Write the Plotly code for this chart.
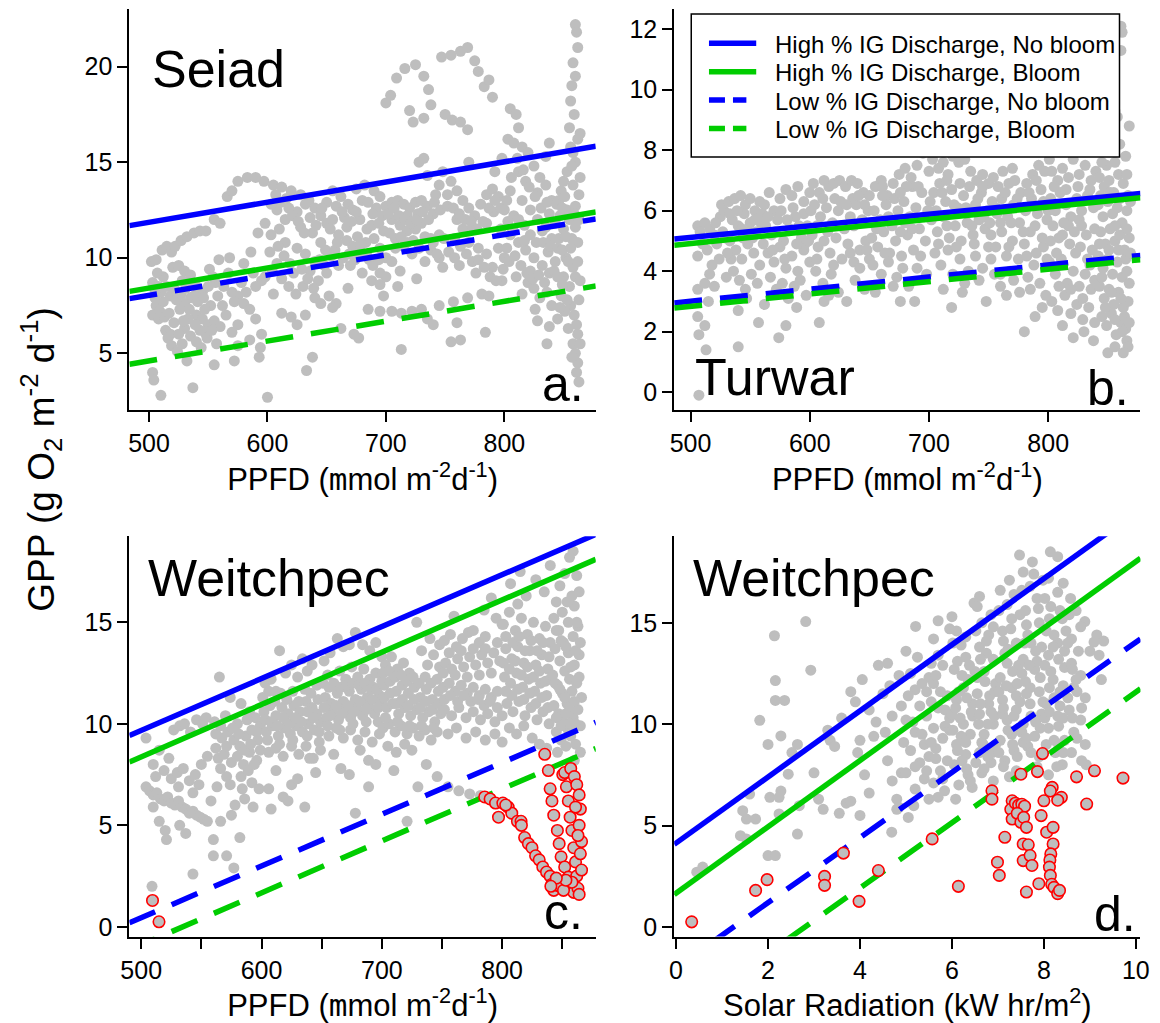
import plotly.graph_objects as go

W, H = 1160, 1023
FONT = "Liberation Sans, Arial, Helvetica, sans-serif"
GRAY = "#bebebe"
BLUE = "#0000ff"
GREEN = "#00cd00"

# ---------------- data ----------------
# Seiad: daily GPP vs PPFD
seiad_pts = [
    (502,9.8),(506,9.9),(503,8.7),(508,8.5),(505,7.9),(506,7.5),(503,7.0),(508,6.8),(503,4.0),(504,3.6),
    (510,2.8),(511,10.4),(515,10.6),(519,10.3),(512,9.0),(515,8.5),(518,8.0),(512,7.7),(514,6.2),(518,6.0),
    (516,5.8),(520,9.5),(510,8.2),(507,9.2),
    (522,10.6),(527,10.9),(532,11.1),(538,11.3),(543,11.4),(548,11.4),(555,12.0),(525,9.6),(530,9.3),(535,9.1),
    (528,8.8),(540,8.5),(545,8.2),(535,7.9),(530,7.6),(526,7.3),(540,7.0),(545,6.8),(550,6.5),(530,6.3),
    (525,6.0),(535,5.9),(540,5.6),(528,5.5),(532,4.6),(537,3.2),(555,6.7),(560,6.4),(548,6.0),(557,5.5),
    (552,7.5),(558,8.0),(556,8.7),(551,9.4),(555,4.4),(522,8.3),(538,8.0),(547,7.3),(533,6.8),(543,6.2),
    (521,6.6),(559,9.9),
    (505,8.3),(509,7.2),(513,6.9),(517,7.1),(523,7.8),(527,8.1),(531,8.4),(536,8.6),(541,7.7),(546,7.9),
    (550,8.5),(554,9.0),(519,5.4),(524,5.1),(529,6.7),(534,7.3),(539,6.5),(544,5.3),(549,5.8),(553,6.2),
    (566,13.2),(570,13.5),(575,14.0),(583,14.2),(590,14.2),(597,14.0),(560,11.8),(568,10.0),(580,9.7),(588,9.2),
    (595,8.8),(570,8.2),(575,8.0),(580,7.6),(585,7.3),(565,7.0),(575,6.5),(570,6.1),(585,5.7),(575,5.4),
    (572,4.6),(593,4.8),(600,2.7),(572,7.7),(590,8.5),(598,9.0),(590,6.8),(595,6.0),(594,5.3),(563,8.5),
    (567,9.2),(578,8.7),(586,10.3),(592,11.3),(598,11.8),(582,8.2),(562,7.5),
    (605,13.8),(612,13.7),(620,13.5),(628,13.3),(635,13.0),(640,12.6),(608,12.5),(615,12.0),(610,11.5),(603,11.2),
    (615,10.8),(625,10.5),(632,10.2),(640,9.8),(648,9.6),(622,9.2),(612,8.9),(618,8.5),(605,8.1),(630,8.5),
    (640,7.9),(645,7.6),(612,7.1),(620,6.9),(625,6.5),(632,7.0),(633,4.1),(638,4.8),(625,12.4),(632,12.8),
    (645,12.2),(650,11.8),(638,11.3),(645,10.8),(650,12.9),(618,12.6),(602,10.3),(628,11.6),(636,9.3),(608,9.7),
    (643,8.8),(650,9.2),
    (603,12.8),(607,13.3),(611,12.9),(616,13.1),(621,12.2),(626,11.9),(631,11.3),(636,12.1),(641,11.7),(646,12.6),
    (604,9.3),(609,10.6),(614,10.1),(619,9.7),(624,8.1),(629,9.4),(634,8.9),(639,8.4),(644,9.9),(649,10.4),
    (655,13.5),(662,13.2),(668,12.8),(672,12.5),(678,12.0),(684,11.5),(690,11.0),(695,10.5),(675,13.6),(682,13.8),
    (690,13.5),(695,13.2),(700,12.7),(660,11.2),(667,10.9),(672,10.6),(678,10.3),(670,9.6),(680,9.2),(688,8.8),
    (695,8.6),(695,9.2),(660,9.6),(668,8.4),(652,8.0),(658,7.6),(655,7.4),(662,6.3),(673,6.0),(677,5.8),
    (685,7.3),(695,7.2),(655,12.0),(688,11.7),(697,12.2),(700,10.0),(665,12.1),(683,10.8),(692,12.6),(657,10.4),
    (676,11.1),(686,9.9),
    (653,11.5),(658,12.7),(663,12.4),(667,11.6),(671,11.9),(675,12.4),(680,13.0),(685,12.9),(689,12.3),(694,11.8),
    (698,11.4),(654,10.1),(659,10.8),(664,10.0),(669,10.2),(674,9.9),(679,10.7),(684,10.1),(689,9.6),(694,9.9),
    (705,12.9),(710,13.0),(715,12.8),(720,12.6),(725,12.9),(730,13.0),(735,12.7),(705,12.0),(712,11.7),(718,11.4),
    (725,11.5),(730,11.8),(740,12.3),(742,13.3),(745,13.8),(735,14.3),(728,15.0),(732,15.2),(748,14.5),(708,11.0),
    (715,10.6),(722,10.2),(705,9.8),(700,9.0),(710,8.5),(698,8.0),(705,7.2),(713,7.1),(722,7.2),(730,7.3),
    (735,6.8),(740,6.5),(713,5.2),(700,18.1),(704,18.5),(709,19.4),(716,19.9),(725,20.1),(732,19.5),(736,18.8),
    (738,18.0),(720,17.7),(723,17.1),(732,17.3),(750,17.5),(747,20.5),(740,10.8),(745,11.2),(745,10.0),(748,9.5),
    (745,7.5),(718,12.2),(727,12.3),(738,11.0),(712,9.3),(726,8.9),(733,9.8),
    (702,12.3),(707,12.6),(711,12.2),(716,12.0),(721,11.8),(726,12.0),(731,12.4),(736,12.0),(741,12.9),(746,12.5),
    (703,11.3),(708,10.5),(713,11.1),(718,10.8),(723,10.9),(728,10.5),(733,11.1),(738,10.4),(743,10.2),(749,11.0),
    (756,17.2),(755,20.6),(763,20.8),(769,21.0),(775,20.3),(778,19.75),(783,18.95),(787,19.3),(790,18.4),(763,17.1),
    (769,16.7),(770,15.0),(755,14.0),(760,13.5),(765,13.0),(770,12.6),(775,12.2),(780,12.8),(785,13.3),(790,13.6),
    (795,13.2),(800,12.5),(760,12.0),(765,11.5),(758,11.0),(770,10.8),(778,10.5),(785,10.2),(795,10.5),(800,10.0),
    (790,9.5),(757,7.7),(769,7.9),(781,8.1),(787,8.0),(784,6.1),(755,5.6),(763,5.7),(760,6.6),(792,14.5),
    (798,15.2),(785,11.8),(797,11.5),(752,12.7),(773,11.6),(791,12.4),(762,9.6),(776,9.2),(798,8.8),
    (752,13.3),(757,12.6),(762,12.3),(767,12.0),(772,11.9),(777,11.5),(782,11.9),(787,12.6),(792,13.0),(797,12.6),
    (753,10.3),(758,10.0),(763,10.6),(768,10.2),(773,9.8),(778,9.9),(783,9.5),(788,9.0),(793,8.8),(799,9.4),
    (805,17.8),(810,17.5),(812,16.8),(803,16.2),(808,16.0),(815,15.8),(820,15.5),(825,14.8),(830,14.2),(835,13.8),
    (812,14.5),(805,13.5),(815,13.0),(822,12.5),(828,12.0),(835,11.6),(805,11.2),(812,10.8),(818,10.4),(825,10.0),
    (832,9.6),(838,9.2),(810,9.0),(820,8.7),(825,8.4),(838,12.3),(840,13.0),(840,11.0),(843,9.8),(836,8.2),
    (840,7.5),(836,5.5),(828,6.7),(835,15.3),(838,16.0),(818,14.0),(808,12.2),(828,13.4),(833,10.8),(817,11.7),
    (802,10.5),(822,9.3),
    (802,13.0),(806,14.2),(811,15.2),(816,14.6),(821,13.7),(826,13.2),(831,12.6),(836,12.9),(803,11.9),(807,11.5),
    (812,12.0),(817,10.9),(822,11.2),(827,10.8),(832,11.4),(837,10.3),(804,9.8),(809,10.1),(814,9.6),(819,9.2),
    (824,8.9),(829,9.1),(834,8.7),(839,10.6),(815,8.1),(830,7.9),(826,7.3),(838,6.4),
    (860,22.2),(861,21.8),(862,21.0),(858,20.2),(860,19.5),(857,19.0),(856,18.2),(859,17.5),(855,16.8),(862,16.2),
    (858,15.5),(860,15.0),(853,14.5),(850,14.0),(848,13.5),(846,13.0),(853,12.5),(855,12.0),(850,11.5),(857,11.0),
    (845,10.5),(852,10.0),(858,9.5),(860,9.0),(855,8.5),(848,8.0),(856,7.5),(859,7.0),(861,6.5),(862,6.0),
    (858,5.5),(860,5.0),(862,4.5),(861,4.0),(863,3.5),(851,7.2),(845,6.8),(842,9.3),(843,11.8),(858,13.8),
    (856,15.8),(860,12.7),(862,10.8),(864,8.8),(864,16.5),(864,14.2),(863,12.0),(854,9.8),(850,9.0),(847,12.2),
    (851,13.2),(857,14.8),(846,11.0),(849,8.6),(854,6.3),(857,4.8),(864,5.5),(863,7.8),(862,9.8),(860,11.6),
    (844,12.8),(849,12.6),(852,11.1),(845,9.0),(849,10.4),(853,7.8),(847,7.4),(856,10.5),(859,12.3),(863,13.3),
]

# Turwar: daily GPP vs PPFD
turwar_pts = [
    (506,5.5),(508,5.3),(512,5.6),(516,5.4),(520,5.2),(510,4.9),(506,4.5),(514,4.7),(518,4.2),(506,3.4),
    (512,3.6),(516,3.9),(522,4.9),(525,5.8),(528,6.0),(506,2.5),(507,1.9),(513,1.4),(507,-0.1),(512,2.2),
    (520,3.5),(524,4.4),(529,5.1),(530,3.8),(515,3.0),(526,6.2),
    (532,6.3),(537,6.4),(542,6.5),(546,6.2),(550,6.4),(554,6.0),(558,6.3),(535,5.7),(540,5.5),(545,5.9),
    (550,5.6),(555,5.3),(533,5.0),(538,4.7),(543,4.4),(548,4.9),(553,4.6),(558,4.2),(536,4.0),(541,3.7),
    (546,3.4),(551,3.9),(556,3.6),(540,2.7),(547,3.1),(540,1.5),(557,2.3),(534,4.4),(552,5.1),(559,5.6),
    (521,5.6),(527,5.3),(533,5.9),(539,6.0),(544,5.1),(549,5.3),(554,5.7),(531,4.6),(543,5.4),
    (562,6.2),(566,6.6),(570,6.0),(575,6.4),(580,6.7),(585,6.5),(590,6.8),(595,6.3),(600,6.6),(563,5.5),
    (568,5.2),(573,5.7),(578,5.0),(583,5.4),(588,5.8),(593,5.1),(598,5.5),(565,4.6),(570,4.3),(575,4.8),
    (580,4.1),(585,4.5),(590,4.0),(595,4.7),(600,4.3),(567,3.8),(572,3.4),(577,3.6),(582,3.1),(587,3.5),
    (592,3.7),(597,3.2),(574,1.8),(580,2.2),(589,2.8),(562,2.9),(595,5.9),
    (560,5.9),(565,5.8),(571,5.3),(576,6.0),(581,5.7),(586,6.1),(591,5.5),(596,4.9),(561,4.9),(569,4.7),
    (579,4.4),(589,4.9),(599,5.0),
    (603,6.9),(608,6.6),(612,7.0),(616,6.8),(620,6.9),(625,7.0),(630,6.8),(635,7.0),(640,6.9),(645,6.6),
    (650,6.5),(604,6.2),(609,5.8),(614,6.1),(619,5.6),(624,6.0),(629,5.4),(634,5.8),(639,6.2),(644,5.7),
    (649,6.0),(602,5.2),(607,4.8),(612,5.0),(617,4.6),(622,5.1),(627,4.4),(632,4.9),(637,4.3),(642,4.7),
    (647,5.0),(605,4.0),(611,3.6),(618,3.9),(624,3.3),(631,3.0),(638,3.7),(646,3.4),(608,2.3),(616,3.2),
    (642,4.1),(650,4.4),(627,5.5),(636,6.4),
    (601,6.0),(606,5.5),(611,6.4),(615,5.3),(621,6.4),(626,6.3),(631,6.2),(637,5.5),(641,6.5),(646,6.2),
    (606,4.4),(620,4.2),(634,4.6),(648,4.7),(612,3.0),
    (655,6.8),(660,7.0),(665,6.5),(670,6.9),(675,7.2),(680,7.4),(685,7.1),(690,7.5),(695,7.9),(700,7.3),
    (654,6.0),(659,5.7),(664,6.2),(669,5.5),(674,6.0),(679,6.3),(684,5.8),(689,6.1),(694,6.6),(699,6.0),
    (652,5.1),(657,4.8),(662,5.3),(667,4.6),(672,5.0),(677,4.5),(682,5.2),(687,4.7),(692,5.4),(697,5.0),
    (653,4.2),(660,3.9),(666,4.3),(673,3.8),(676,3.0),(683,3.5),(690,4.1),(698,3.9),(670,3.5),(686,6.8),
    (680,5.6),
    (651,5.6),(656,5.4),(661,6.5),(666,5.8),(671,6.4),(676,5.3),(681,6.8),(686,5.4),(691,6.8),(696,5.8),
    (663,4.6),(678,4.1),(693,4.5),(655,3.3),(688,3.0),(661,6.8),(676,6.6),
    (703,7.7),(708,7.4),(712,7.6),(716,7.2),(720,7.8),(725,7.6),(730,7.7),(735,7.3),(740,7.0),(745,7.2),
    (750,6.9),(704,6.6),(709,6.9),(714,6.3),(719,6.7),(724,6.1),(729,6.5),(734,6.8),(739,6.2),(744,6.6),
    (749,6.0),(702,5.7),(707,5.3),(712,5.8),(717,5.1),(722,5.5),(727,5.0),(732,5.6),(737,5.2),(742,5.7),
    (747,5.4),(705,4.6),(710,4.2),(716,4.7),(720,3.9),(726,4.4),(733,4.0),(739,4.5),(745,4.1),(750,4.8),
    (719,2.8),(712,3.4),(728,3.3),(742,3.7),(748,3.0),(735,6.0),
    (701,6.3),(706,6.0),(711,6.6),(715,5.5),(721,6.2),(726,6.9),(731,6.1),(736,5.5),(741,6.4),(746,5.8),
    (708,4.9),(723,4.8),(738,4.9),(730,3.6),(715,7.0),(745,6.8),
    (754,7.1),(758,6.8),(762,7.3),(767,6.9),(772,7.0),(777,6.6),(782,6.9),(787,7.2),(792,7.5),(797,7.3),
    (801,7.7),(753,6.3),(757,5.9),(761,6.4),(766,5.8),(771,6.2),(776,5.6),(781,6.0),(786,6.4),(791,5.9),
    (796,6.3),(800,6.0),(752,5.2),(756,4.8),(761,5.3),(765,4.5),(770,5.0),(775,4.4),(780,4.9),(785,5.3),
    (790,4.6),(795,5.1),(799,4.4),(755,3.9),(760,3.5),(765,3.2),(771,3.7),(776,3.3),(780,2.0),(789,2.5),
    (783,3.8),(793,3.6),(798,3.2),(768,4.0),(788,4.2),
    (751,5.6),(756,6.1),(760,5.6),(764,6.6),(769,5.6),(774,6.4),(779,5.3),(784,6.6),(789,5.5),(794,6.7),
    (799,5.7),(752,4.4),(767,4.8),(782,4.5),(796,4.8),(760,3.9),(785,3.4),(795,2.8),(770,7.4),(790,7.0),
    (803,7.3),(808,7.0),(812,7.4),(817,7.1),(821,7.7),(826,7.2),(831,7.5),(836,7.0),(840,7.3),(838,8.4),
    (842,8.3),(830,8.4),(802,6.4),(806,6.0),(810,6.6),(815,6.2),(819,5.8),(824,6.4),(828,6.0),(833,6.5),
    (838,6.1),(804,5.5),(809,5.1),(813,5.6),(818,4.9),(822,5.3),(827,4.8),(832,5.2),(837,4.7),(801,4.3),
    (806,3.9),(811,4.4),(816,3.6),(821,4.0),(826,3.5),(831,3.9),(836,3.4),(803,3.0),(808,2.7),(814,3.2),
    (819,2.6),(824,2.9),(829,2.4),(834,2.8),(839,2.3),(821,1.8),(830,2.0),(838,1.7),(812,2.2),(826,5.7),
    (835,4.2),
    (802,5.0),(807,4.6),(812,5.2),(817,5.5),(823,4.6),(828,5.5),(833,4.4),(839,5.4),(805,6.8),(815,6.7),
    (825,6.8),(835,6.7),(809,3.5),(819,3.4),(829,3.1),(839,3.7),
    (861,12.1),(862,11.9),(861,11.3),(856,9.3),(858,9.1),(844,8.7),(853,8.0),(849,7.5),(856,7.6),(860,8.2),
    (865,7.8),(843,7.1),(847,6.8),(851,7.0),(855,6.6),(859,7.2),(863,6.9),(867,6.5),(842,6.2),(846,5.8),
    (850,6.3),(854,5.9),(858,6.1),(862,5.6),(866,6.0),(844,5.3),(848,4.9),(852,5.4),(856,5.0),(860,5.2),
    (864,4.7),(868,5.1),(842,4.5),(846,4.1),(850,4.4),(854,3.9),(858,4.3),(862,3.8),(866,4.0),(843,3.5),
    (847,3.1),(851,3.4),(855,2.9),(859,3.3),(863,2.8),(867,3.0),(845,2.5),(849,2.2),(853,2.6),(857,1.9),
    (861,2.3),(865,2.1),(850,1.3),(856,1.5),(862,2.0),(866,1.7),(868,8.8),
    (845,7.6),(852,6.6),(860,6.4),(866,7.2),(843,4.9),(851,4.7),(859,4.7),(865,4.4),(845,3.8),(853,3.3),
    (861,3.1),(868,3.6),(848,2.8),(856,2.4),(864,2.5),(868,2.3),(844,6.5),(856,5.5),(866,5.4),(869,6.3),
    (869,4.6),(867,1.5),(863,1.3),
]

# Weitchpec: daily GPP vs PPFD, days without a bloom
weitchpec_ppfd_pts = [
    (504,6.9),(507,6.7),(510,6.5),(513,6.6),(516,6.3),(519,6.2),(522,6.4),(525,6.1),(528,6.0),(531,6.2),
    (534,5.9),(537,5.8),(540,5.6),(543,5.7),(546,5.5),(549,5.4),(552,5.3),(555,5.2),(510,5.9),(515,5.2),
    (521,4.3),(520,4.75),(537,4.6),(509,2.0),(504,9.3),(510,8.0),(515,8.7),(519,7.7),(523,8.3),(527,9.7),
    (532,9.9),(536,10.0),(541,9.6),(546,10.2),(551,10.0),(554,10.3),(525,7.3),(530,7.6),(535,7.8),(540,7.2),
    (545,7.5),(550,8.0),(555,8.4),(512,7.4),(531,6.9),(543,6.6),(548,7.0),(558,6.2),(543,2.6),(532,5.0),
    (560,4.3),(566,5.2),(560,3.5),(571,3.5),(577,2.9),(582,4.4),(565,12.3),(574,11.3),(583,11.0),(590,10.6),
    (595,10.3),(571,7.4),(583,7.4),(592,7.1),(598,6.8),(562,8.8),(567,9.3),(572,9.6),(577,9.2),(582,8.9),
    (587,9.4),(592,9.7),(597,9.2),(564,8.3),(569,8.5),(575,8.1),(580,8.4),(585,8.0),(590,8.6),(596,8.2),
    (561,10.1),(570,10.4),(580,10.0),(588,10.2),(599,9.9),(586,6.3),(593,5.9),(578,6.0),(563,6.9),(575,5.5),
    (562,9.5),(566,9.9),(571,8.9),(576,9.8),(581,9.5),(586,8.7),(591,9.0),(596,9.6),(599,8.7),(566,7.8),
    (574,7.0),(584,6.8),(589,7.7),(594,8.0),
    (603,12.0),(608,12.2),(612,11.6),(615,13.6),(620,12.5),(625,12.9),(630,12.3),(634,13.2),(638,12.6),(642,12.9),
    (646,11.9),(602,10.6),(607,10.9),(612,10.4),(617,10.8),(622,10.5),(627,10.9),(632,10.6),(637,11.1),(642,10.8),
    (647,11.2),(604,9.6),(609,9.9),(614,9.4),(619,9.8),(624,9.5),(629,9.9),(634,9.6),(639,10.0),(644,9.7),
    (649,10.1),(606,8.6),(612,8.8),(618,8.4),(625,8.9),(631,8.5),(637,8.9),(643,8.3),(649,8.7),(612,7.7),
    (625,7.0),(640,8.3),(606,6.8),(618,6.4),(630,7.3),(645,7.6),(608,5.8),(622,6.2),(636,5.9),
    (601,11.3),(606,11.6),(611,11.1),(616,11.5),(621,11.2),(626,11.6),(631,11.1),(636,11.7),(641,11.5),(646,10.5),
    (603,10.2),(608,10.1),(613,9.9),(618,10.3),(623,10.0),(628,10.3),(633,10.1),(638,10.6),(643,10.3),(648,9.6),
    (605,9.2),(615,9.0),(626,9.2),(638,9.4),(648,9.1),
    (652,13.1),(657,13.5),(663,14.2),(668,13.8),(673,13.9),(678,14.5),(684,13.9),(690,13.6),(695,14.0),(700,13.3),
    (655,12.4),(660,12.0),(665,12.6),(670,12.2),(675,12.8),(680,12.3),(685,12.7),(690,12.2),(695,12.5),(700,12.1),
    (653,11.3),(658,11.0),(663,11.5),(668,11.1),(673,11.6),(678,11.2),(683,11.7),(688,11.3),(693,11.8),(698,11.4),
    (654,10.3),(659,10.6),(664,10.2),(669,10.7),(674,10.3),(679,10.8),(684,10.4),(689,10.9),(694,10.5),(699,11.0),
    (656,9.4),(662,9.8),(668,9.3),(674,9.7),(680,9.2),(686,9.6),(692,9.1),(698,9.5),(673,7.5),(689,8.2),
    (689,6.9),(678,5.6),(660,8.5),(666,7.8),(682,8.7),(695,8.0),
    (651,12.0),(656,11.8),(661,11.9),(666,11.8),(671,11.9),(676,12.0),(681,11.9),(686,12.0),(691,11.7),(696,11.7),
    (652,10.8),(657,10.4),(662,10.9),(667,10.5),(672,10.9),(677,10.6),(682,11.1),(687,10.7),(692,11.2),(697,10.8),
    (655,9.9),(665,9.7),(676,10.0),(687,10.1),(697,10.1),
    (703,12.9),(708,13.3),(713,12.7),(718,13.0),(723,12.5),(729,15.0),(733,13.6),(738,12.9),(743,13.4),(748,12.8),
    (702,11.9),(707,12.1),(712,11.6),(717,11.9),(722,11.5),(727,11.8),(732,11.3),(737,11.7),(742,11.2),(747,11.6),
    (704,10.8),(709,11.0),(714,10.5),(719,10.8),(724,10.4),(729,10.7),(734,10.3),(739,10.6),(744,10.1),(749,10.5),
    (701,9.8),(706,10.0),(711,9.6),(716,9.9),(721,9.5),(726,9.8),(731,9.4),(736,9.7),(741,9.2),(746,9.6),
    (705,8.9),(712,8.6),(719,9.0),(721,5.2),(730,6.9),(725,8.7),(737,8.0),(746,7.4),(710,7.7),(740,14.2),
    (748,13.9),
    (701,12.5),(706,12.6),(711,12.3),(716,12.4),(721,12.1),(726,12.3),(731,12.0),(736,12.3),(741,12.0),(746,12.2),
    (702,11.3),(707,11.5),(712,11.0),(717,11.2),(722,10.9),(727,11.2),(732,10.8),(737,11.1),(742,10.7),(747,11.0),
    (703,10.3),(713,10.1),(723,9.9),(733,9.9),(743,9.8),
    (752,14.1),(757,14.4),(762,13.8),(767,14.2),(772,14.5),(776,14.6),(781,14.0),(786,14.3),(791,16.2),(795,15.2),
    (800,14.9),(753,13.0),(758,12.7),(763,13.2),(768,12.8),(773,13.3),(778,12.9),(783,13.4),(788,13.0),(793,13.5),
    (798,13.1),(751,11.8),(756,12.0),(761,11.6),(766,11.9),(771,11.5),(776,11.8),(781,11.4),(786,11.7),(791,11.3),
    (796,11.6),(752,10.7),(758,10.4),(764,10.8),(770,10.3),(776,10.6),(782,10.2),(788,10.5),(794,10.1),(800,10.4),
    (755,9.5),(762,9.8),(770,9.3),(778,9.6),(786,9.2),(794,9.5),(800,9.1),(755,6.9),(764,6.7),(773,6.55),
    (782,6.47),(760,15.3),(785,15.6),
    (751,12.5),(756,13.5),(761,12.4),(766,13.6),(771,12.3),(776,13.7),(781,12.4),(786,13.7),(791,12.5),(796,14.0),
    (752,11.2),(757,11.4),(763,11.1),(768,11.4),(774,11.1),(780,11.2),(785,10.9),(790,11.1),(796,10.8),
    (807,16.9),(813,15.9),(801,14.9),(806,15.5),(811,14.6),(816,15.2),(821,14.4),(826,15.0),(831,14.2),(836,14.8),
    (840,14.0),(803,13.7),(808,13.2),(813,13.8),(818,13.0),(823,13.6),(828,12.9),(833,13.4),(838,12.7),(802,12.3),
    (807,12.0),(812,12.5),(817,11.8),(822,12.2),(827,11.6),(832,12.0),(837,11.4),(804,11.0),(809,10.6),(814,11.1),
    (819,10.4),(824,10.8),(829,10.2),(834,10.6),(839,10.0),(806,9.8),(812,9.5),(818,9.9),(825,9.3),(831,9.0),
    (837,8.8),(820,16.3),(828,17.1),(835,16.5),(815,17.5),(840,17.8),
    (803,14.3),(809,14.0),(814,14.3),(819,13.6),(824,14.1),(829,13.6),(834,14.0),(839,13.3),(801,13.0),(806,12.7),
    (811,13.1),(816,12.4),(821,12.8),(826,12.3),(831,12.6),(836,12.1),(840,12.2),(803,11.6),(808,11.4),(813,11.7),
    (818,11.2),(823,11.5),(828,11.0),(833,11.3),(838,10.8),
    (859,18.5),(856,18.2),(852,17.4),(848,16.8),(845,16.0),(850,15.5),(855,15.0),(860,15.8),(864,16.5),(862,17.3),
    (843,15.2),(847,14.6),(851,14.0),(855,13.5),(859,14.3),(863,14.8),(844,13.7),(848,13.1),(852,12.6),(856,12.2),
    (860,12.9),(864,13.4),(842,12.4),(846,11.9),(850,11.5),(854,11.0),(858,11.6),(862,12.0),(866,11.3),(843,10.9),
    (847,10.5),(851,10.1),(855,9.7),(859,10.3),(863,10.7),(865,9.9),(845,9.6),(849,9.2),(853,8.9),(857,9.4),
    (861,9.0),(865,8.6),(846,8.6),(860,8.2),
    (845,14.6),(849,14.1),(853,13.8),(857,12.8),(861,13.6),(865,14.0),(844,12.0),(848,11.7),(852,11.3),(856,10.7),
    (860,11.1),(864,12.3),(845,10.3),(849,9.9),(853,10.5),(857,10.0),(861,10.0),(862,15.0),(858,16.3),(854,16.0),
]

# Weitchpec: bloom days vs PPFD
weitchpec_ppfd_bloom = [
    (509.4,1.3),(514.8,0.25),
    (785.5,6.4),(790,6.3),(794.5,6.1),(797,5.4),(800.6,6.1),(805,5.9),(808,5.6),(812.7,5.2),
    (815.7,5.2),(818.7,4.4),(821.8,4.1),(824.8,3.9),(827.8,3.5),(830.8,3.3),(833.8,2.95),(836.9,2.7),(839.9,2.5),(841.4,2.1),
    (842.9,1.8),(845.9,2.05),
    (835.4,8.5),(838.4,7.7),(839.9,6.8),(841.4,6.2),(842.9,5.5),(845.9,4.75),(847.4,4.1),(849,3.45),(852,2.95),(855,2.45),
    (856.5,1.95),(859.5,1.7),(850.4,7.5),(853.4,6.9),(855,6.2),(856.5,5.4),(858,4.75),(859.5,3.9),(861,3.2),(862,2.5),
    (863,1.9),(864,1.6),(852,7.6),(857,7.8),(860,7.4),(862,7.0),(864,6.5),(865,5.8),(864,5.0),(866,4.2),
    (865,3.6),(866,2.8),(848,2.0),(851,1.8),(858,2.2),(861,5.9),(863,4.5),(853,2.3),(845,2.4),(840.5,2.0),
    (816,5.0),(803,6.0),
]

# Weitchpec: daily GPP vs solar radiation, days without a bloom
weitchpec_solar_pts = [
    (0.58,2.95),(0.45,2.7),(1.53,4.34),(1.4,4.5),(1.53,5.32),(1.73,5.32),(1.45,5.73),(1.6,6.55),(1.82,10.19),(2.0,9.0),
    (2.14,14.36),(2.16,12.15),(2.16,11.17),(2.36,11.17),(2.28,9.42),(2.04,6.39),(2.24,6.39),(2.44,7.53),(2.64,9.0),(2.52,8.6),
    (2.64,4.58),(2.0,3.52),(2.16,3.52),(2.82,15.06),(2.93,12.66),(2.24,5.57),(2.68,5.98),(2.28,6.7),(3.0,7.6),(3.1,6.3),
    (3.2,5.8),(3.3,9.7),(3.35,9.2),(3.45,8.9),(3.6,10.3),(3.8,11.6),(3.9,11.1),(3.7,6.1),(3.55,5.6),(3.8,6.2),
    (4.0,5.5),(4.05,12.2),(4.0,9.2),(3.95,8.6),(4.1,7.5),(4.2,6.6),(4.2,10.7),(4.35,10.1),(4.4,12.9),(4.6,13.0),
    (4.55,9.6),(4.3,9.4),(4.7,10.4),(4.6,8.2),(4.7,7.2),(4.8,6.3),(4.8,5.8),(4.69,4.67),(4.65,11.9),(4.5,11.5),
    (4.9,10.9),(4.95,9.1),(4.85,12.4),(4.9,7.6),
    (5.0,13.6),(5.1,12.5),(5.2,11.7),(5.3,10.9),(5.0,10.2),(5.2,9.6),(5.4,9.0),(5.1,8.7),(5.3,8.1),(5.0,7.6),
    (5.4,7.3),(5.2,6.8),(5.5,6.3),(5.17,5.98),(5.05,5.4),(5.21,14.82),(5.5,12.3),(5.45,10.4),(5.5,8.4),(4.85,5.9),
    (5.05,11.4),(5.15,10.1),(5.35,12.0),(5.25,13.3),(5.45,11.6),(5.35,9.5),(5.2,7.9),(5.45,7.7),
    (5.6,14.2),(5.7,13.4),(5.8,12.9),(5.6,12.0),(5.9,11.4),(5.7,10.8),(5.95,10.3),(5.6,9.8),(5.8,9.3),(5.65,8.8),
    (5.9,8.2),(5.75,7.7),(5.6,7.1),(5.84,6.71),(6.08,6.3),(5.7,15.1),(5.95,14.7),(5.55,11.1),(5.85,9.9),
    (5.55,13.0),(5.65,12.4),(5.75,11.6),(5.85,10.7),(5.95,9.7),(5.55,9.1),(5.65,8.3),(5.8,7.3),(5.7,6.4),
    (6.0,15.3),(6.1,14.6),(6.2,13.9),(6.3,13.3),(6.05,12.7),(6.35,12.2),(6.15,11.6),(6.45,11.0),(6.0,10.5),(6.25,10.0),
    (6.4,9.5),(6.1,9.0),(6.3,8.5),(6.05,8.0),(6.35,7.5),(6.15,7.0),(6.44,6.88),(6.48,15.97),(6.3,14.3),(6.5,12.6),
    (6.1,11.2),(6.45,10.4),(6.2,9.4),
    (6.02,14.0),(6.12,13.1),(6.22,12.4),(6.32,11.3),(6.42,10.6),(6.02,9.7),(6.12,8.7),(6.22,8.2),(6.32,7.8),(6.4,7.2),
    (6.25,11.8),(6.38,12.9),(6.08,10.8),(6.18,10.3),(6.3,9.1),
    (6.55,15.8),(6.65,15.0),(6.8,14.4),(6.6,13.8),(6.9,13.2),(6.7,12.6),(6.95,12.0),(6.55,11.5),(6.8,11.0),(6.6,10.5),
    (6.9,10.0),(6.7,9.5),(6.95,9.0),(6.6,8.6),(6.85,8.1),(6.65,7.6),(6.9,7.2),(6.6,16.3),(6.85,15.4),(6.75,13.5),
    (6.55,12.3),(6.85,10.6),(6.65,9.1),
    (6.52,14.6),(6.62,13.2),(6.72,12.1),(6.82,11.4),(6.92,10.4),(6.58,10.0),(6.68,9.0),(6.78,8.4),(6.88,8.6),(6.7,7.8),
    (6.52,8.1),(6.62,11.0),(6.78,10.0),(6.93,11.6),(6.75,14.1),(6.9,14.8),
    (7.05,16.6),(7.2,15.9),(7.3,15.2),(7.1,14.6),(7.4,14.0),(7.15,13.5),(7.45,12.9),(7.05,12.3),(7.3,11.8),(7.1,11.2),
    (7.4,10.7),(7.2,10.2),(7.45,9.7),(7.05,9.2),(7.35,8.7),(7.15,8.2),(7.4,7.7),(7.25,17.1),(7.35,16.4),(7.2,13.0),
    (7.4,11.4),(7.1,10.5),(7.3,9.5),(7.47,18.34),
    (7.02,15.6),(7.12,14.1),(7.22,13.7),(7.32,12.6),(7.42,12.0),(7.02,11.6),(7.12,10.8),(7.22,9.7),(7.32,9.0),(7.42,8.4),
    (7.02,8.6),(7.12,7.9),(7.25,7.4),(7.18,11.9),(7.35,10.4),(7.48,11.1),(7.28,14.7),(7.48,15.4),
    (7.55,17.5),(7.7,16.8),(7.85,16.2),(7.6,15.6),(7.9,15.0),(7.65,14.4),(7.95,13.8),(7.55,13.2),(7.8,12.7),(7.6,12.1),
    (7.9,11.6),(7.7,11.0),(7.95,10.5),(7.55,10.0),(7.8,9.4),(7.65,8.9),(7.9,8.4),(7.75,18.0),(7.85,13.1),(7.7,11.8),
    (7.55,9.1),
    (7.52,16.6),(7.62,14.9),(7.72,14.0),(7.82,13.6),(7.92,12.3),(7.52,12.5),(7.62,11.5),(7.72,10.4),(7.82,10.1),(7.92,9.8),
    (7.52,9.6),(7.62,9.3),(7.72,8.6),(7.85,7.9),(7.98,11.1),(7.68,12.9),(7.58,14.0),(7.88,15.7),(7.98,17.1),(7.78,17.4),
    (8.14,18.5),(8.1,17.2),(8.3,16.5),(8.15,15.8),(8.4,15.2),(8.05,14.6),(8.3,14.0),(8.1,13.4),(8.45,12.8),(8.2,12.2),
    (8.35,11.6),(8.05,11.0),(8.3,10.4),(8.1,9.8),(8.45,9.2),(8.25,8.6),(8.4,8.0),(8.1,7.5),(8.3,18.26),(8.42,16.95),
    (8.45,13.6),(8.15,12.6),(8.35,10.9),
    (8.02,16.2),(8.12,15.2),(8.22,14.4),(8.32,13.2),(8.42,11.9),(8.02,12.9),(8.12,11.8),(8.22,11.3),(8.32,9.9),(8.42,10.3),
    (8.02,10.3),(8.12,10.6),(8.22,9.2),(8.32,9.0),(8.42,8.6),(8.2,13.8),(8.35,15.6),(8.48,14.6),(8.05,9.0),(8.28,7.9),
    (8.55,15.4),(8.6,14.2),(8.75,13.6),(8.6,13.0),(8.8,12.4),(8.65,11.8),(8.9,11.3),(8.55,10.7),(8.8,10.2),(8.65,9.6),
    (8.9,9.0),(8.6,8.6),(8.92,8.0),(8.89,15.06),(9.09,14.05),(9.0,13.6),(9.15,14.4),(8.7,12.2),
    (8.52,14.0),(8.62,12.7),(8.72,11.6),(8.82,10.8),(8.52,11.3),(8.62,10.3),(8.72,9.3),(8.82,8.2),(8.58,16.2),(8.7,15.6),
    (8.8,14.8),(9.3,14.1),(9.2,13.4),(9.25,12.2),
]

# Weitchpec: bloom days vs solar radiation
weitchpec_solar_bloom = [
    (0.34,0.25),(1.73,1.8),(1.98,2.33),(3.23,2.49),(3.23,2.05),(3.64,3.64),(3.98,1.26),(4.4,2.78),(5.57,4.34),(6.14,2.0),
    (6.87,6.71),(6.87,6.3),(6.99,3.19),(7.03,2.54),(7.15,4.42),(7.31,6.22),(7.28,5.8),(7.31,5.32),(7.38,6.1),(7.45,6.0),
    (7.52,6.05),(7.58,5.95),(7.42,5.6),(7.5,5.16),(7.56,5.4),(7.62,4.91),(7.55,4.09),(7.55,3.27),(7.66,4.05),(7.7,3.52),
    (7.74,3.03),(7.62,1.72),(7.5,7.53),(7.86,7.66),(7.97,8.55),(7.94,5.49),(8.06,4.67),(8.0,6.22),(8.18,6.88),(8.14,6.7),
    (8.2,4.91),(8.2,4.09),(8.15,3.6),(8.13,3.3),(8.12,2.95),(8.14,2.54),(7.89,2.13),(8.17,2.1),(8.22,1.95),(8.3,1.64),
    (8.34,1.8),(8.38,6.39),(8.3,6.25),(8.71,7.4),(9.1,7.7),(8.93,6.06),(9.72,7.34),
]

# Fitted GPP lines: [value at left edge, value at right edge]
seiad_x = [483.4, 877.2]
seiad_high_nobloom = [11.68, 15.83]
seiad_high_bloom = [8.24, 12.39]
seiad_low_nobloom = [7.86, 12.03]
seiad_low_bloom = [4.43, 8.52]

turwar_x = [486.3, 877.4]
turwar_high_nobloom = [5.06, 6.57]
turwar_high_bloom = [4.86, 6.43]
turwar_low_nobloom = [2.95, 4.52]
turwar_low_bloom = [2.78, 4.38]

weitchpec_ppfd_x = [490.2, 877.8]
weitchpec_ppfd_high_nobloom = [9.42, 19.33]
weitchpec_ppfd_high_bloom = [8.12, 18.10]
weitchpec_ppfd_low_nobloom = [0.20, 10.07]
weitchpec_ppfd_low_bloom = [-1.13, 8.78]

weitchpec_solar_x = [-0.04, 10.1]
weitchpec_solar_high_nobloom = [4.07, 20.60]
weitchpec_solar_high_bloom = [1.60, 18.18]
weitchpec_solar_low_nobloom = [-2.08, 14.20]
weitchpec_solar_low_bloom = [-4.58, 11.74]

series_names = [
    "High % IG Discharge, No bloom",
    "High % IG Discharge, Bloom",
    "Low % IG Discharge, No bloom",
    "Low % IG Discharge, Bloom",
]
series_colors = [BLUE, GREEN, BLUE, GREEN]
series_dash = ["solid", "solid", "28px,18px", "28px,18px"]

# ---------------- figure ----------------
fig = go.Figure()


def px_x(p):
    return p / W


def px_y(p):
    return 1 - p / H


panels = [
    dict(ax="", pts=seiad_pts, bloom=None, lx=seiad_x,
         lines=[seiad_high_nobloom, seiad_high_bloom, seiad_low_nobloom, seiad_low_bloom]),
    dict(ax="2", pts=turwar_pts, bloom=None, lx=turwar_x,
         lines=[turwar_high_nobloom, turwar_high_bloom, turwar_low_nobloom, turwar_low_bloom]),
    dict(ax="3", pts=weitchpec_ppfd_pts, bloom=weitchpec_ppfd_bloom, lx=weitchpec_ppfd_x,
         lines=[weitchpec_ppfd_high_nobloom, weitchpec_ppfd_high_bloom,
                weitchpec_ppfd_low_nobloom, weitchpec_ppfd_low_bloom]),
    dict(ax="4", pts=weitchpec_solar_pts, bloom=weitchpec_solar_bloom, lx=weitchpec_solar_x,
         lines=[weitchpec_solar_high_nobloom, weitchpec_solar_high_bloom,
                weitchpec_solar_low_nobloom, weitchpec_solar_low_bloom]),
]

for p in panels:
    xa, ya = "x" + p["ax"], "y" + p["ax"]
    fig.add_trace(go.Scatter(
        x=[q[0] for q in p["pts"]], y=[q[1] for q in p["pts"]],
        mode="markers", xaxis=xa, yaxis=ya, showlegend=False, hoverinfo="x+y",
        marker=dict(size=11, color=GRAY, line=dict(width=0)),
    ))
    for name, yv, col, dash in zip(series_names, p["lines"], series_colors, series_dash):
        fig.add_trace(go.Scatter(
            x=p["lx"], y=yv, mode="lines", xaxis=xa, yaxis=ya, name=name,
            showlegend=False, line=dict(color=col, width=5.5, dash=dash),
        ))
    if p["bloom"]:
        fig.add_trace(go.Scatter(
            x=[q[0] for q in p["bloom"]], y=[q[1] for q in p["bloom"]],
            mode="markers", xaxis=xa, yaxis=ya, showlegend=False,
            marker=dict(size=11.5, color=GRAY, line=dict(width=1.6, color="red")),
        ))

# Panel geometry in pixels
col_left = (122.3, 596.0)
col_right = (675.7, 1149.3)
row_top = (9.3, 411.3)
row_bot = (538.3, 940.3)

axis_common = dict(
    showline=True, linecolor="black", linewidth=2, mirror=False,
    ticks="outside", ticklen=10, tickwidth=2, tickcolor="black",
    showgrid=False, zeroline=False,
    tickfont=dict(family=FONT, size=25, color="black"),
)
ppfd_title = ("PPFD (<span style='font-family:DejaVu Sans Mono'>m</span>mol m<sup>-2</sup>d<sup>-1</sup>)")
title_font = dict(family=FONT, size=31, color="black")

fig.update_layout(
    width=W, height=H, margin=dict(l=0, r=0, t=0, b=0),
    paper_bgcolor="white", plot_bgcolor="white", showlegend=False,
    font=dict(family=FONT, color="black"),
    xaxis=dict(domain=[px_x(col_left[0]), px_x(col_left[1])], range=[483.4, 877.2], anchor="y",
               tickvals=[500, 600, 700, 800], title=dict(text=ppfd_title, font=title_font, standoff=8),
               **axis_common),
    yaxis=dict(domain=[px_y(row_top[1]), px_y(row_top[0])], range=[2.05, 23.0], anchor="x",
               tickvals=[5, 10, 15, 20], **axis_common),
    xaxis2=dict(domain=[px_x(col_right[0]), px_x(col_right[1])], range=[486.3, 877.4], anchor="y2",
                tickvals=[500, 600, 700, 800], title=dict(text=ppfd_title, font=title_font, standoff=8),
                **axis_common),
    yaxis2=dict(domain=[px_y(row_top[1]), px_y(row_top[0])], range=[-0.58, 12.66], anchor="x2",
                tickvals=[0, 2, 4, 6, 8, 10, 12], **axis_common),
    xaxis3=dict(domain=[px_x(col_left[0]), px_x(col_left[1])], range=[490.2, 877.8], anchor="y3",
                tickvals=[500, 550, 600, 650, 700, 750, 800, 850],
                ticktext=["500", "", "600", "", "700", "", "800", ""],
                title=dict(text=ppfd_title, font=title_font, standoff=8), **axis_common),
    yaxis3=dict(domain=[px_y(row_bot[1]), px_y(row_bot[0])], range=[-0.48, 19.24], anchor="x3",
                tickvals=[0, 5, 10, 15], **axis_common),
    xaxis4=dict(domain=[px_x(col_right[0]), px_x(col_right[1])], range=[-0.04, 10.1], anchor="y4",
                tickvals=[0, 2, 4, 6, 8, 10],
                title=dict(text="Solar Radiation (kW hr/m<sup>2</sup>)", font=title_font, standoff=8),
                **axis_common),
    yaxis4=dict(domain=[px_y(row_bot[1]), px_y(row_bot[0])], range=[-0.48, 19.27], anchor="x4",
                tickvals=[0, 5, 10, 15], **axis_common),
)


def add_text(text, x, baseline, size, anchor="left"):
    # place text by its baseline (pixel coordinates)
    fig.add_annotation(
        text=text, xref="paper", yref="paper", showarrow=False,
        x=px_x(x), y=px_y(baseline - 0.3465 * size), xanchor=anchor, yanchor="middle",
        font=dict(family=FONT, size=size, color="black"),
    )


# Site names and panel letters
add_text("Seiad", 143, 87.5, 52)
add_text("Turwar", 695, 396, 52)
add_text("Weitchpec", 139, 598, 52)
add_text("Weitchpec", 693, 598, 52)
add_text("a.", 586, 402.5, 50, "right")
add_text("b.", 1140, 406.5, 50, "right")
add_text("c.", 585, 933, 50, "right")
add_text("d.", 1147, 935, 50, "right")

# Shared y-axis title
fig.add_annotation(
    text="GPP (g O<sub>2</sub> m<sup>-2</sup> d<sup>-1</sup>)", xref="paper", yref="paper",
    x=px_x(32), y=px_y(462), xanchor="center", yanchor="middle", textangle=-90,
    showarrow=False, font=dict(family=FONT, size=37, color="black"),
)

# Legend box in the Turwar panel
fig.add_shape(type="rect", xref="paper", yref="paper",
              x0=px_x(693), x1=px_x(1128), y0=px_y(157.5), y1=px_y(14),
              line=dict(color="black", width=1.5), fillcolor="white", layer="above")
legend_rows = [43.5, 72, 100.5, 129]
for name, col, dash, yrow in zip(series_names, series_colors, series_dash, legend_rows):
    solid = dash == "solid"
    fig.add_shape(type="line", xref="paper", yref="paper",
                  x0=px_x(711), x1=px_x(759 if solid else 749), y0=px_y(yrow), y1=px_y(yrow),
                  line=dict(color=col, width=5.5, dash="solid" if solid else "16px,8px"),
                  layer="above")
    fig.add_annotation(text=name, xref="paper", yref="paper", showarrow=False,
                       x=px_x(776), y=px_y(yrow + 1), xanchor="left", yanchor="middle",
                       font=dict(family=FONT, size=24, color="black"))

fig.write_html("out.html")
